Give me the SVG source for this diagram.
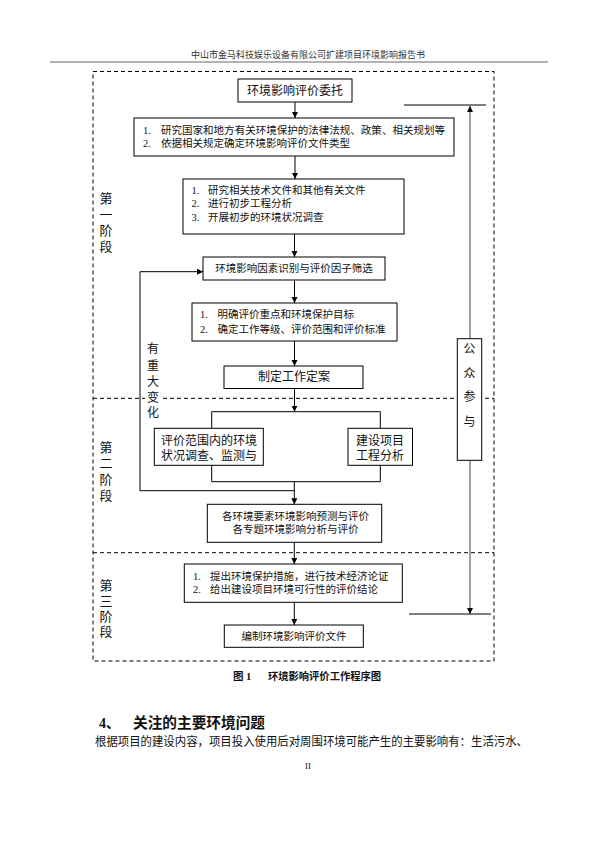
<svg xmlns="http://www.w3.org/2000/svg" width="595" height="842" viewBox="0 0 595 842">
<defs>
<style>
text{font-family:"Liberation Serif","Noto Sans CJK SC",serif;fill:#111;dominant-baseline:central}
.b{fill:#fff;stroke:#000;stroke-width:1}
.c{fill:none;stroke:#000;stroke-width:1}
.g{fill:none;stroke:#888;stroke-width:1.6}
.d{fill:none;stroke:#000;stroke-width:1;stroke-dasharray:4,3}
.t{font-size:10.5px}
.m{font-size:12px}
.s{font-size:13px}
.h{font-size:9px;fill:#333}
</style>
<marker id="ar" markerWidth="8" markerHeight="8" refX="6" refY="3" orient="auto" markerUnits="userSpaceOnUse"><path d="M0,0 L6,3 L0,6 Z" fill="#000"/></marker>
</defs>
<rect width="595" height="842" fill="#fff"/>
<text class="h" x="308" y="55" text-anchor="middle">中山市金马科技娱乐设备有限公司扩建项目环境影响报告书</text>
<line x1="50" y1="62" x2="548" y2="62" stroke="#666" stroke-width="1"/>
<g id="frame">
<rect class="d" x="93" y="71.5" width="401" height="589.5"/>
<line class="d" x1="93" y1="398.3" x2="494" y2="398.3"/>
<line class="d" x1="93" y1="552.7" x2="494" y2="552.7"/>
</g>
<g id="stage1"><text class="s" text-anchor="middle"><tspan x="106" y="198">第</tspan><tspan x="106" y="214">一</tspan><tspan x="106" y="230">阶</tspan><tspan x="106" y="246">段</tspan></text></g>
<g id="stage2"><text class="s" text-anchor="middle"><tspan x="106" y="447">第</tspan><tspan x="106" y="463">二</tspan><tspan x="106" y="479">阶</tspan><tspan x="106" y="495">段</tspan></text></g>
<g id="stage3"><text class="s" text-anchor="middle"><tspan x="106" y="585">第</tspan><tspan x="106" y="600.5">三</tspan><tspan x="106" y="615.5">阶</tspan><tspan x="106" y="631">段</tspan></text></g>
<g id="connectors">
<line class="c" x1="295" y1="102" x2="295" y2="118" marker-end="url(#ar)"/>
<line class="c" x1="295" y1="156" x2="295" y2="179" marker-end="url(#ar)"/>
<line class="c" x1="294.5" y1="234" x2="294.5" y2="257" marker-end="url(#ar)"/>
<line class="c" x1="294.5" y1="280" x2="294.5" y2="303" marker-end="url(#ar)"/>
<line class="c" x1="294.5" y1="341" x2="294.5" y2="366" marker-end="url(#ar)"/>
<line class="c" x1="294.5" y1="388.5" x2="294.5" y2="411.7" marker-end="url(#ar)"/>
<polyline class="c" points="211.7,428.3 211.7,411.7 380.3,411.7 380.3,428.3"/>
<polyline class="c" points="211.7,465.3 211.7,481.7 380.3,481.7 380.3,465.3"/>
<line class="c" x1="294.3" y1="481.7" x2="294.3" y2="504.3" marker-end="url(#ar)"/>
<polyline class="c" points="294.3,490.7 140,490.7 140,271.7 203,271.7" marker-end="url(#ar)"/>
<line class="c" x1="294.3" y1="542.3" x2="294.3" y2="564" marker-end="url(#ar)"/>
<line class="c" x1="294.3" y1="602.3" x2="294.3" y2="625" marker-end="url(#ar)"/>
<line class="c" x1="404" y1="105" x2="486" y2="105"/>
<line class="g" x1="470" y1="338.7" x2="470" y2="106" marker-end="url(#ar)"/>
<line class="g" x1="470" y1="460.3" x2="470" y2="614" marker-end="url(#ar)"/>
<line class="c" x1="409" y1="614" x2="491" y2="614"/>
</g>
<g id="change">
<rect x="145" y="390" width="16" height="16" fill="#fff"/>
<text class="m" text-anchor="middle"><tspan x="153" y="349">有</tspan><tspan x="153" y="365.5">重</tspan><tspan x="153" y="382">大</tspan><tspan x="153" y="398">变</tspan><tspan x="153" y="413">化</tspan></text>
</g>
<g id="n1"><rect class="b" x="238" y="79" width="114" height="23"/><text class="m" x="295" y="90.5" text-anchor="middle">环境影响评价委托</text></g>
<g id="n2"><rect class="b" x="134" y="118" width="320" height="38"/>
<text class="t"><tspan x="143" y="130">1.</tspan><tspan x="161" y="130" textLength="284" lengthAdjust="spacingAndGlyphs">研究国家和地方有关环境保护的法律法规、政策、相关规划等</tspan><tspan x="143" y="143">2.</tspan><tspan x="161" y="143">依据相关规定确定环境影响评价文件类型</tspan></text></g>
<g id="n3"><rect class="b" x="183" y="179" width="221" height="55"/>
<text class="t"><tspan x="191.5" y="189.5">1.</tspan><tspan x="208" y="189.5">研究相关技术文件和其他有关文件</tspan><tspan x="191.5" y="203">2.</tspan><tspan x="208" y="203">进行初步工程分析</tspan><tspan x="191.5" y="216.5">3.</tspan><tspan x="208" y="216.5">开展初步的环境状况调查</tspan></text></g>
<g id="n4"><rect class="b" x="203" y="257" width="182" height="23"/><text class="t" x="294" y="268.5" text-anchor="middle">环境影响因素识别与评价因子筛选</text></g>
<g id="n5"><rect class="b" x="192" y="303" width="205" height="38"/>
<text class="t"><tspan x="200" y="314">1.</tspan><tspan x="217.5" y="314">明确评价重点和环境保护目标</tspan><tspan x="200" y="329">2.</tspan><tspan x="217.5" y="329">确定工作等级、评价范围和评价标准</tspan></text></g>
<g id="n6"><rect class="b" x="224" y="366" width="139" height="22.5"/><text class="m" x="294" y="377" text-anchor="middle">制定工作定案</text></g>
<g id="n7"><rect class="b" x="154.3" y="428.3" width="109" height="37"/>
<text class="m" text-anchor="middle"><tspan x="209" y="440.5">评价范围内的环境</tspan><tspan x="209" y="455.5">状况调查、监测与</tspan></text></g>
<g id="n8"><rect class="b" x="348" y="428.3" width="64.5" height="37"/>
<text class="m" text-anchor="middle"><tspan x="380" y="440.5">建设项目</tspan><tspan x="380" y="455.5">工程分析</tspan></text></g>
<g id="n9"><rect class="b" x="207.3" y="504.3" width="174.4" height="38"/>
<text class="t" text-anchor="middle"><tspan x="295.5" y="516.3">各环境要素环境影响预测与评价</tspan><tspan x="295.5" y="529">各专题环境影响分析与评价</tspan></text></g>
<g id="n10"><rect class="b" x="184.3" y="564" width="218" height="38.3"/>
<text class="t"><tspan x="193" y="575.7">1.</tspan><tspan x="210" y="575.7">提出环境保护措施，进行技术经济论证</tspan><tspan x="193" y="588.7">2.</tspan><tspan x="210" y="588.7">给出建设项目环境可行性的评价结论</tspan></text></g>
<g id="n11"><rect class="b" x="224.3" y="625" width="139" height="22.3"/><text class="t" x="294" y="636" text-anchor="middle">编制环境影响评价文件</text></g>
<g id="public"><rect class="b" x="457.3" y="338.7" width="24.4" height="121.6"/>
<text class="m" text-anchor="middle"><tspan x="469.5" y="349">公</tspan><tspan x="469.5" y="374">众</tspan><tspan x="469.5" y="397">参</tspan><tspan x="469.5" y="421.5">与</tspan></text></g>
<text x="233" y="676" font-size="10.5" font-weight="bold">图 1</text>
<text x="268" y="676" font-size="10.5" font-weight="bold" textLength="113" lengthAdjust="spacingAndGlyphs">环境影响评价工作程序图</text>
<text x="99" y="723" font-size="14" font-weight="bold">4、</text>
<text x="133" y="723" font-size="14.5" font-weight="bold" textLength="132" lengthAdjust="spacingAndGlyphs">关注的主要环境问题</text>
<text x="95" y="742" font-size="12" textLength="433" lengthAdjust="spacingAndGlyphs">根据项目的建设内容，项目投入使用后对周围环境可能产生的主要影响有：生活污水、</text>
<text x="308" y="766" font-size="9" text-anchor="middle">II</text>
</svg>
